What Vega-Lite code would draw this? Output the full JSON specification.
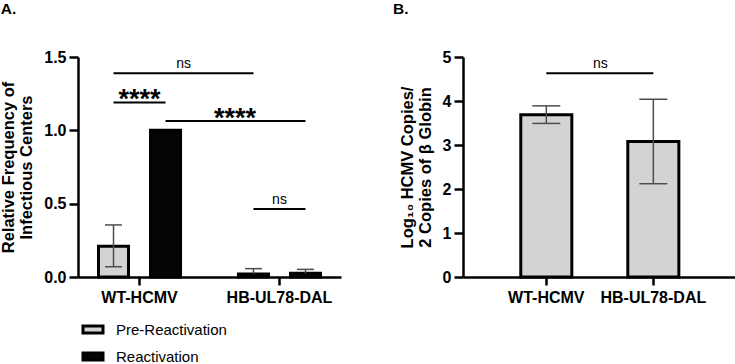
{
  "$schema": "https://vega.github.io/schema/vega-lite/v6.json",
  "padding": {"left": 0, "top": 1, "right": 0, "bottom": 0},
  "background": "white",
  "datasets": {
    "freq": [
      {"virus": "WT-HCMV", "phase": "Pre-Reactivation", "mean": 0.21, "lo": 0.07, "hi": 0.355},
      {"virus": "WT-HCMV", "phase": "Reactivation", "mean": 1.0, "lo": 1.0, "hi": 1.0},
      {"virus": "HB-UL78-DAL", "phase": "Pre-Reactivation", "mean": 0.02, "lo": 0.02, "hi": 0.057},
      {"virus": "HB-UL78-DAL", "phase": "Reactivation", "mean": 0.025, "lo": 0.025, "hi": 0.052}
    ],
    "freqBrackets": [
      {"pair": "a", "virus": "WT-HCMV", "phase": "Pre-Reactivation", "level": 1.39},
      {"pair": "a", "virus": "HB-UL78-DAL", "phase": "Pre-Reactivation", "level": 1.39},
      {"pair": "b", "virus": "WT-HCMV", "phase": "Pre-Reactivation", "level": 1.19},
      {"pair": "b", "virus": "WT-HCMV", "phase": "Reactivation", "level": 1.19},
      {"pair": "c", "virus": "WT-HCMV", "phase": "Reactivation", "level": 1.063},
      {"pair": "c", "virus": "HB-UL78-DAL", "phase": "Reactivation", "level": 1.063},
      {"pair": "d", "virus": "HB-UL78-DAL", "phase": "Pre-Reactivation", "level": 0.463},
      {"pair": "d", "virus": "HB-UL78-DAL", "phase": "Reactivation", "level": 0.463}
    ],
    "freqWithinNs": [
      {"label": "ns", "virus": "HB-UL78-DAL", "level": 0.463}
    ],
    "freqWithinStars": [
      {"label": "****", "virus": "WT-HCMV", "level": 1.19}
    ],
    "freqAcrossNs": [
      {"label": "ns", "virus": "WT-HCMV", "phase": "Reactivation", "level": 1.39}
    ],
    "freqAcrossStars": [
      {"label": "****", "virus": "HB-UL78-DAL", "phase": "Pre-Reactivation", "level": 1.063}
    ],
    "copies": [
      {"virus": "WT-HCMV", "mean": 3.69, "lo": 3.49, "hi": 3.89},
      {"virus": "HB-UL78-DAL", "mean": 3.08, "lo": 2.12, "hi": 4.04}
    ],
    "copiesBracket": [
      {"virus": "WT-HCMV", "level": 4.63},
      {"virus": "HB-UL78-DAL", "level": 4.63}
    ],
    "copiesLabel": [
      {"label": "ns", "virus": "WT-HCMV", "level": 4.63}
    ]
  },
  "hconcat": [
    {
      "width": 263,
      "height": 220,
      "title": {"text": "A.", "anchor": "start", "frame": "bounds", "offset": 32},
      "encoding": {
        "x": {
          "field": "virus", "type": "nominal",
          "sort": ["WT-HCMV", "HB-UL78-DAL"],
          "scale": {"paddingInner": 0.121, "paddingOuter": 0},
          "axis": {"title": null, "labelAngle": 0, "tickSize": 8, "labelPadding": 4}
        }
      },
      "layer": [
        {
          "data": {"name": "freq"},
          "mark": {"type": "bar", "stroke": "black", "strokeWidth": 3},
          "encoding": {
            "xOffset": {
              "field": "phase", "type": "nominal",
              "sort": ["Pre-Reactivation", "Reactivation"],
              "scale": {"paddingInner": 0.423, "paddingOuter": 0.394}
            },
            "y": {
              "field": "mean", "type": "quantitative",
              "scale": {"domain": [0, 1.5], "nice": false},
              "axis": {
                "title": ["Relative Frequency of", "Infectious Centers"],
                "values": [0, 0.5, 1, 1.5], "format": ".1f",
                "tickSize": 9, "labelPadding": 3, "titlePadding": 9
              }
            },
            "color": {
              "field": "phase", "type": "nominal",
              "sort": ["Pre-Reactivation", "Reactivation"],
              "scale": {"range": ["#d3d3d3", "#050505"]},
              "legend": {
                "title": null, "orient": "none", "legendX": 7.5, "legendY": 265,
                "direction": "vertical", "padding": 0,
                "symbolType": "M-1.82,-0.64H1.82V0.64H-1.82Z", "symbolSize": 121,
                "symbolStrokeColor": "black", "symbolStrokeWidth": 3, "symbolOpacity": 1,
                "labelFontSize": 15, "labelFontWeight": "normal", "labelColor": "black",
                "labelOffset": 15.5, "rowPadding": 6
              }
            }
          }
        },
        {
          "data": {"name": "freq"},
          "transform": [{"filter": "datum.hi > datum.mean"}],
          "mark": {"type": "rule", "color": "#4d4d4d", "strokeWidth": 1.5},
          "encoding": {
            "xOffset": {"field": "phase", "type": "nominal", "sort": ["Pre-Reactivation", "Reactivation"]},
            "y": {"field": "lo", "type": "quantitative"},
            "y2": {"field": "hi"}
          }
        },
        {
          "data": {"name": "freq"},
          "transform": [{"filter": "datum.hi > datum.mean"}],
          "mark": {"type": "tick", "color": "#4d4d4d", "thickness": 1.5, "size": 17, "opacity": 1},
          "encoding": {
            "xOffset": {"field": "phase", "type": "nominal", "sort": ["Pre-Reactivation", "Reactivation"]},
            "y": {"field": "hi", "type": "quantitative"}
          }
        },
        {
          "data": {"name": "freq"},
          "transform": [{"filter": "datum.lo < datum.mean"}],
          "mark": {"type": "tick", "color": "#4d4d4d", "thickness": 1.5, "size": 17, "opacity": 1},
          "encoding": {
            "xOffset": {"field": "phase", "type": "nominal", "sort": ["Pre-Reactivation", "Reactivation"]},
            "y": {"field": "lo", "type": "quantitative"}
          }
        },
        {
          "data": {"name": "freqBrackets"},
          "mark": {"type": "line", "color": "black", "strokeWidth": 2, "strokeCap": "butt"},
          "encoding": {
            "xOffset": {"field": "phase", "type": "nominal", "sort": ["Pre-Reactivation", "Reactivation"]},
            "y": {"field": "level", "type": "quantitative"},
            "detail": {"field": "pair"}
          }
        },
        {
          "data": {"name": "freqWithinNs"},
          "mark": {"type": "text", "fontSize": 14, "color": "black", "baseline": "alphabetic", "dy": -5},
          "encoding": {
            "y": {"field": "level", "type": "quantitative"},
            "text": {"field": "label"}
          }
        },
        {
          "data": {"name": "freqWithinStars"},
          "mark": {"type": "text", "fontSize": 27, "fontWeight": "bold", "color": "black", "baseline": "alphabetic", "dy": 6},
          "encoding": {
            "y": {"field": "level", "type": "quantitative"},
            "text": {"field": "label"}
          }
        },
        {
          "data": {"name": "freqAcrossNs"},
          "mark": {"type": "text", "fontSize": 14, "color": "black", "baseline": "alphabetic", "dx": 18, "dy": -5},
          "encoding": {
            "xOffset": {"field": "phase", "type": "nominal", "sort": ["Pre-Reactivation", "Reactivation"]},
            "y": {"field": "level", "type": "quantitative"},
            "text": {"field": "label"}
          }
        },
        {
          "data": {"name": "freqAcrossStars"},
          "mark": {"type": "text", "fontSize": 27, "fontWeight": "bold", "color": "black", "baseline": "alphabetic", "dx": -18.5, "dy": 5.5},
          "encoding": {
            "xOffset": {"field": "phase", "type": "nominal", "sort": ["Pre-Reactivation", "Reactivation"]},
            "y": {"field": "level", "type": "quantitative"},
            "text": {"field": "label"}
          }
        }
      ]
    },
    {
      "width": 276,
      "height": 220,
      "title": {"text": "B.", "anchor": "start", "frame": "bounds", "offset": 32, "dx": -6},
      "encoding": {
        "x": {
          "field": "virus", "type": "nominal",
          "sort": ["WT-HCMV", "HB-UL78-DAL"],
          "scale": {"paddingInner": 0.523, "paddingOuter": 0.551, "align": 0.49},
          "axis": {"title": null, "labelAngle": 0, "tickSize": 8, "labelPadding": 4}
        }
      },
      "layer": [
        {
          "data": {"name": "copies"},
          "mark": {"type": "bar", "fill": "#d3d3d3", "stroke": "black", "strokeWidth": 3},
          "encoding": {
            "y": {
              "field": "mean", "type": "quantitative",
              "scale": {"domain": [0, 5], "nice": false},
              "axis": {
                "title": ["Log₁₀ HCMV Copies/", "2 Copies of β Globin"],
                "values": [0, 1, 2, 3, 4, 5],
                "tickSize": 9, "labelPadding": 3, "titlePadding": 9
              }
            }
          }
        },
        {
          "data": {"name": "copies"},
          "mark": {"type": "rule", "color": "#4d4d4d", "strokeWidth": 1.5},
          "encoding": {
            "y": {"field": "lo", "type": "quantitative"},
            "y2": {"field": "hi"}
          }
        },
        {
          "data": {"name": "copies"},
          "mark": {"type": "tick", "color": "#4d4d4d", "thickness": 1.5, "size": 28, "opacity": 1},
          "encoding": {"y": {"field": "hi", "type": "quantitative"}}
        },
        {
          "data": {"name": "copies"},
          "mark": {"type": "tick", "color": "#4d4d4d", "thickness": 1.5, "size": 28, "opacity": 1},
          "encoding": {"y": {"field": "lo", "type": "quantitative"}}
        },
        {
          "data": {"name": "copiesBracket"},
          "mark": {"type": "line", "color": "black", "strokeWidth": 2, "strokeCap": "butt"},
          "encoding": {"y": {"field": "level", "type": "quantitative"}}
        },
        {
          "data": {"name": "copiesLabel"},
          "mark": {"type": "text", "fontSize": 14, "color": "black", "baseline": "alphabetic", "dx": 54, "dy": -5},
          "encoding": {
            "y": {"field": "level", "type": "quantitative"},
            "text": {"field": "label"}
          }
        }
      ]
    }
  ],
  "spacing": 52,
  "config": {
    "font": "Liberation Sans",
    "view": {"stroke": null},
    "axis": {
      "grid": false,
      "domainColor": "black", "domainWidth": 2.5,
      "tickColor": "black", "tickWidth": 2.5,
      "labelFont": "Liberation Sans", "labelFontSize": 16, "labelFontWeight": "bold", "labelColor": "black",
      "titleFont": "Liberation Sans", "titleFontSize": 16.5, "titleFontWeight": "bold", "titleColor": "black",
      "titleLineHeight": 18
    },
    "legend": {"labelFont": "Liberation Sans"},
    "title": {"font": "Liberation Sans", "fontSize": 15.5, "fontWeight": "bold", "color": "black"}
  }
}
